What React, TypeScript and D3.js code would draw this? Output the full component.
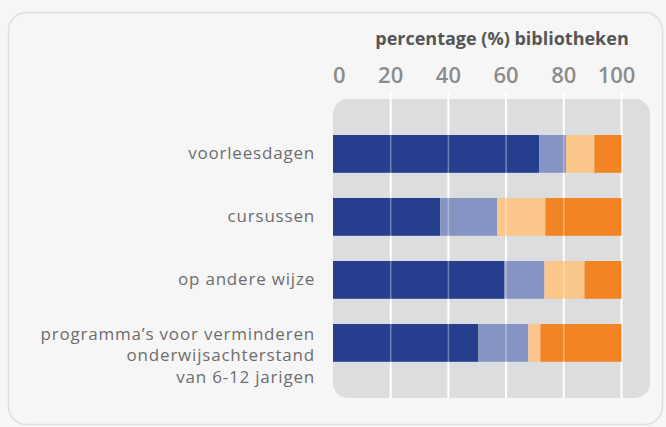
import * as d3 from "d3";
import React from "react";

// categories (top to bottom)
const categories = [
  ["voorleesdagen"],
  ["cursussen"],
  ["op andere wijze"],
  ["programma’s voor verminderen", "onderwijsachterstand", "van 6-12 jarigen"],
];
// percentage segments per category, left to right
const segDark = [71.5, 37.2, 59.3, 50.3];
const segLightBlue = [9.3, 19.7, 14.0, 17.4];
const segLightOrange = [9.8, 16.7, 13.9, 4.2];
const segOrange = [9.4, 26.4, 12.8, 28.1];
const ticks = [0, 20, 40, 60, 80, 100];
const axisTitle = "percentage (%) bibliotheken";

const colors = ["#253f8e", "#8694c3", "#fbc68a", "#f38423"];

export default function App() {
  const width = 666, height = 427;
  const x = d3.scaleLinear().domain([0, 100]).range([333, 621.5]);
  const y = d3.scaleBand<number>()
    .domain(d3.range(categories.length))
    .range([122.4, 374.4])
    .paddingInner(0.4)
    .paddingOuter(0.2);

  const series = [segDark, segLightBlue, segLightOrange, segOrange];
  const rows = categories.map((_, i) => {
    let acc = 0;
    return series.map((s, k) => {
      const x0 = acc;
      acc += s[i];
      return { x0, x1: acc, color: colors[k] };
    });
  });

  const labelFont = "'Open Sans', 'Noto Sans', sans-serif";

  return (
    <svg width={width} height={height}
      style={{ position: "absolute", left: 0, top: 0, display: "block" }}>
      <rect x={0} y={0} width={width} height={height} fill="#f6f6f6" />
      {/* card */}
      <rect x={8.5} y={12.5} width={654} height={412} rx={18} ry={18}
        fill="#f6f6f6" stroke="#dedede" strokeWidth={1.5} />

      {/* plot panel */}
      <rect x={333} y={99} width={317} height={299} rx={15} ry={15} fill="#dcdddf" />

      {/* gridlines behind bars */}
      {ticks.map(t => (
        <line key={"g" + t} x1={x(t)} x2={x(t)} y1={92} y2={398}
          stroke="#ffffff" strokeWidth={t === 0 ? 0 : 2} />
      ))}

      {/* bars */}
      {rows.map((segs, i) => (
        <g key={"r" + i}>
          {segs.map((s, k) => (
            <rect key={k} x={x(s.x0)} y={y(i)!}
              width={Math.max(0, x(s.x1) - x(s.x0))} height={y.bandwidth()}
              fill={s.color} />
          ))}
        </g>
      ))}

      {/* faint gridlines over bars */}
      {ticks.filter(t => t > 0 && t < 100).map(t => (
        <line key={"o" + t} x1={x(t)} x2={x(t)} y1={99} y2={398}
          stroke="#ffffff" strokeOpacity={0.35} strokeWidth={1.5} />
      ))}

      {/* tick labels */}
      {ticks.map((t, i) => (
        <text key={"t" + t}
          x={x(t) + (i === ticks.length - 1 ? -5 : 0)}
          y={83}
          textAnchor={i === 0 ? "start" : "middle"}
          fill="#8c8c8c" fontSize={22} fontWeight={600}
          fontFamily="'Open Sans', 'Noto Sans', sans-serif">
          {t}
        </text>
      ))}

      {/* axis title */}
      <text x={502} y={45} textAnchor="middle" fill="#555555"
        fontSize={18} fontWeight={700} fontFamily={labelFont}>
        {axisTitle}
      </text>

      {/* category labels */}
      {categories.map((lines, i) => {
        const cy = y(i)! + y.bandwidth() / 2;
        const start = lines.length > 1 ? cy - 3 : cy + 5.5;
        return (
          <text key={"c" + i} x={315} textAnchor="end" fill="#6d6d6d"
            fontSize={17} letterSpacing={0.8} fontFamily={labelFont}>
            {lines.map((l, j) => (
              <tspan key={j} x={315} y={start + j * 21.5}>{l}</tspan>
            ))}
          </text>
        );
      })}
    </svg>
  );
}
